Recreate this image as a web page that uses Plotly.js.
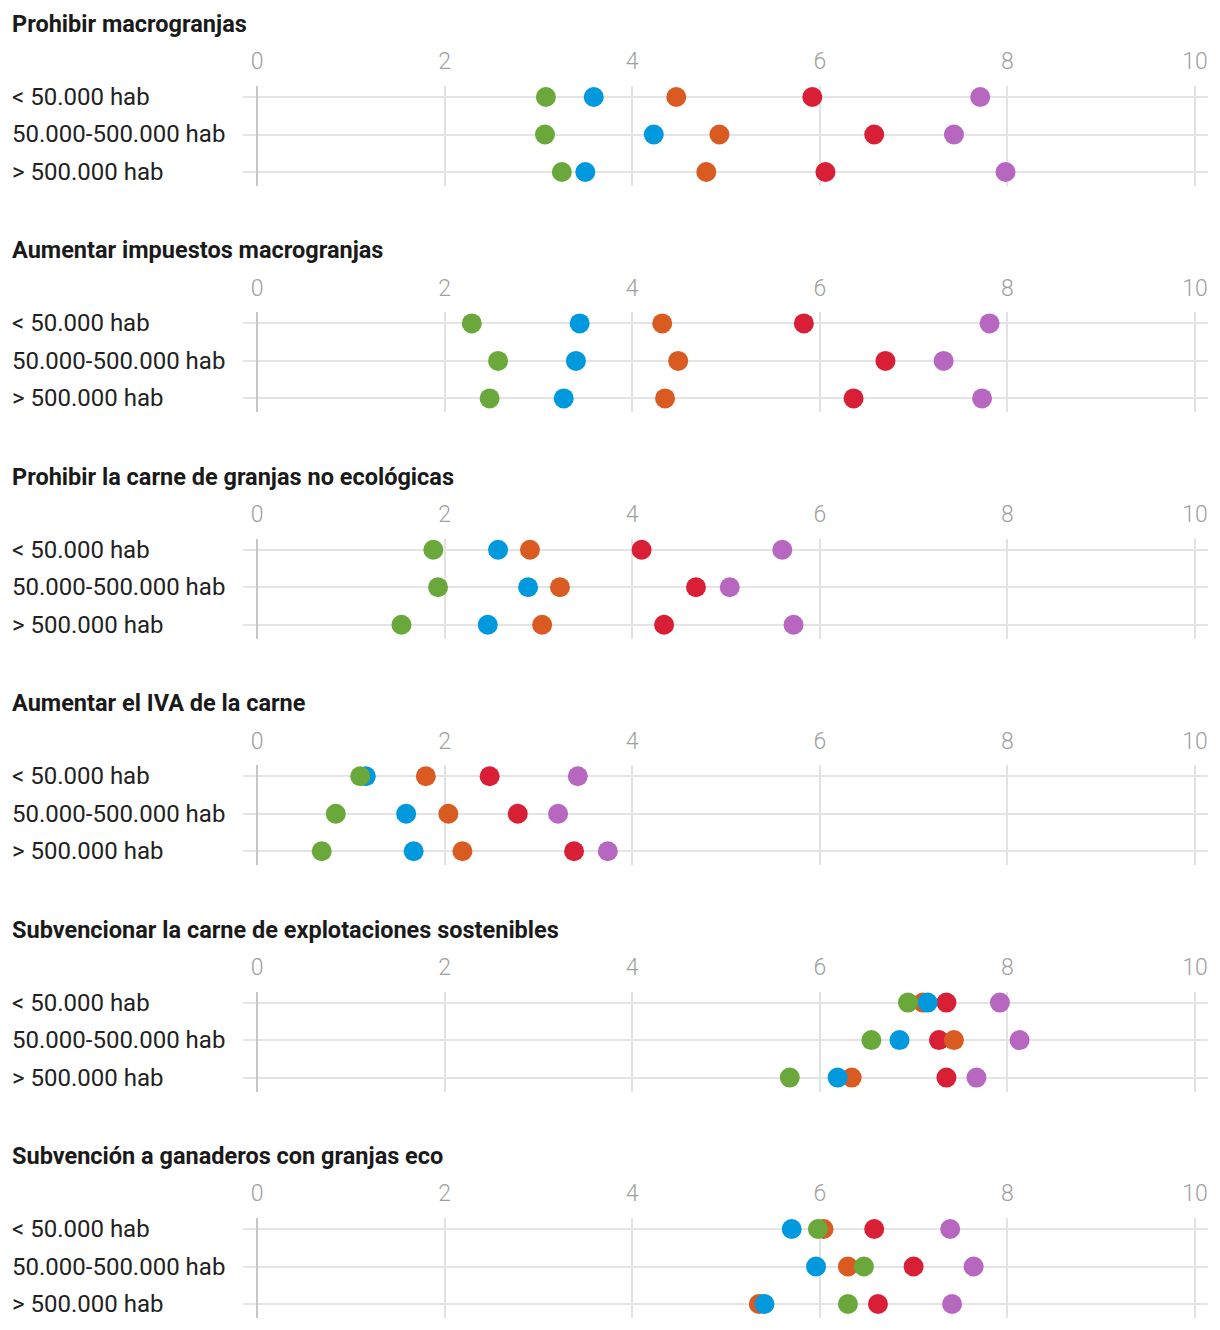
<!DOCTYPE html>
<html>
<head>
<meta charset="utf-8">
<script src="https://cdn.plot.ly/plotly-3.0.1.min.js"></script>
<style>
html,body{margin:0;padding:0;background:#fff;}
#chart{width:1220px;height:1330px;}
</style>
</head>
<body>
<div id="chart"></div>
<script>
// ---- Data ----
const categories = ['< 50.000 hab', '50.000-500.000 hab', '> 500.000 hab'];
const panelTitles = [
  'Prohibir macrogranjas',
  'Aumentar impuestos macrogranjas',
  'Prohibir la carne de granjas no ecológicas',
  'Aumentar el IVA de la carne',
  'Subvencionar la carne de explotaciones sostenibles',
  'Subvención a ganaderos con granjas eco'
];
const tickValues = [0, 2, 4, 6, 8, 10];

// values per panel, rows in category order
const greenValues = [
  [3.08, 3.07, 3.25],
  [2.29, 2.57, 2.48],
  [1.88, 1.93, 1.54],
  [1.10, 0.84, 0.69],
  [6.94, 6.55, 5.68],
  [5.98, 6.47, 6.30]
];
const blueValues = [
  [3.59, 4.23, 3.50],
  [3.44, 3.40, 3.27],
  [2.57, 2.89, 2.46],
  [1.16, 1.59, 1.67],
  [7.15, 6.85, 6.19],
  [5.70, 5.96, 5.41]
];
const orangeValues = [
  [4.47, 4.93, 4.79],
  [4.32, 4.49, 4.35],
  [2.91, 3.23, 3.04],
  [1.80, 2.04, 2.19],
  [7.10, 7.43, 6.34],
  [6.04, 6.30, 5.35]
];
const redValues = [
  [5.92, 6.58, 6.06],
  [5.83, 6.70, 6.36],
  [4.10, 4.68, 4.34],
  [2.48, 2.78, 3.38],
  [7.35, 7.27, 7.35],
  [6.58, 7.00, 6.62]
];
const purpleValues = [
  [7.71, 7.43, 7.98],
  [7.81, 7.32, 7.73],
  [5.60, 5.04, 5.72],
  [3.42, 3.21, 3.74],
  [7.92, 8.13, 7.67],
  [7.39, 7.64, 7.41]
];

// ---- Styles ----
const W = 1220, H = 1330;
const FONT = 'Roboto, "Noto Sans", sans-serif';
const series = [
  {vals: purpleValues, color: '#b767c0'},
  {vals: redValues,    color: '#d91f36'},
  {vals: orangeValues, color: '#d95b21'},
  {vals: blueValues,   color: '#0099dd'},
  {vals: greenValues,  color: '#6aa83b'}
];

const traces = [];
const layout = {
  width: W, height: H,
  margin: {l: 0, r: 0, t: 0, b: 0},
  paper_bgcolor: '#fff', plot_bgcolor: 'rgba(0,0,0,0)',
  showlegend: false,
  annotations: [],
  font: {family: FONT}
};

const py = px => 1 - px / H;
const xLeft = 243, xRight = 1208, x0px = 257, x10px = 1195;
const unit = (x10px - x0px) / 10;
const xRange = [(xLeft - x0px) / unit, 10 + (xRight - x10px) / unit];

panelTitles.forEach((title, p) => {
  const o = 226.4 * p;
  const n = p === 0 ? '' : String(p + 1);
  const top = o + 86, bottom = o + 186;
  const rowTop = o + 97, rowStep = 37.5;
  const yRange = [2 + (bottom - (rowTop + 2 * rowStep)) / rowStep, -(rowTop - top) / rowStep];

  layout['xaxis' + n] = {
    domain: [xLeft / W, xRight / W],
    range: xRange,
    side: 'top',
    anchor: 'y' + n,
    tickmode: 'array',
    tickvals: tickValues,
    ticktext: tickValues.map(String),
    ticks: '',
    ticklabelstandoff: 11,
    tickfont: {family: FONT, size: 23, color: '#a0a0a0', weight: 300},
    showgrid: true, gridcolor: '#e2e2e2', gridwidth: 2,
    zeroline: true, zerolinecolor: '#c6c6c6', zerolinewidth: 2,
    showline: false,
    fixedrange: true
  };
  layout['yaxis' + n] = {
    domain: [py(bottom), py(top)],
    type: 'category',
    categoryarray: categories,
    range: yRange,
    anchor: 'x' + n,
    showticklabels: false,
    ticks: '',
    showgrid: true, gridcolor: '#e4e4e4', gridwidth: 2,
    zeroline: false, showline: false,
    fixedrange: true
  };

  layout.annotations.push({
    xref: 'paper', yref: 'paper',
    x: 10 / W, y: py(o + 24),
    xanchor: 'left', yanchor: 'middle',
    text: '<b>' + title + '</b>',
    showarrow: false,
    font: {family: FONT, size: 23.5, color: '#1a1a1a'}
  });
  categories.forEach((c, r) => {
    layout.annotations.push({
      xref: 'paper', yref: 'y' + n,
      x: 10 / W, y: c,
      xanchor: 'left', yanchor: 'middle',
      text: c.replace('<', '&lt;').replace('>', '&gt;'),
      showarrow: false,
      font: {family: FONT, size: 24, color: '#222'}
    });
  });

  series.forEach(s => {
    traces.push({
      type: 'scatter', mode: 'markers',
      x: s.vals[p], y: categories,
      xaxis: 'x' + n, yaxis: 'y' + n,
      marker: {size: 20, color: s.color, line: {width: 0}},
      cliponaxis: false,
      hoverinfo: 'x'
    });
  });
});

Plotly.newPlot('chart', traces, layout, {displayModeBar: false, staticPlot: true});
</script>
</body>
</html>
